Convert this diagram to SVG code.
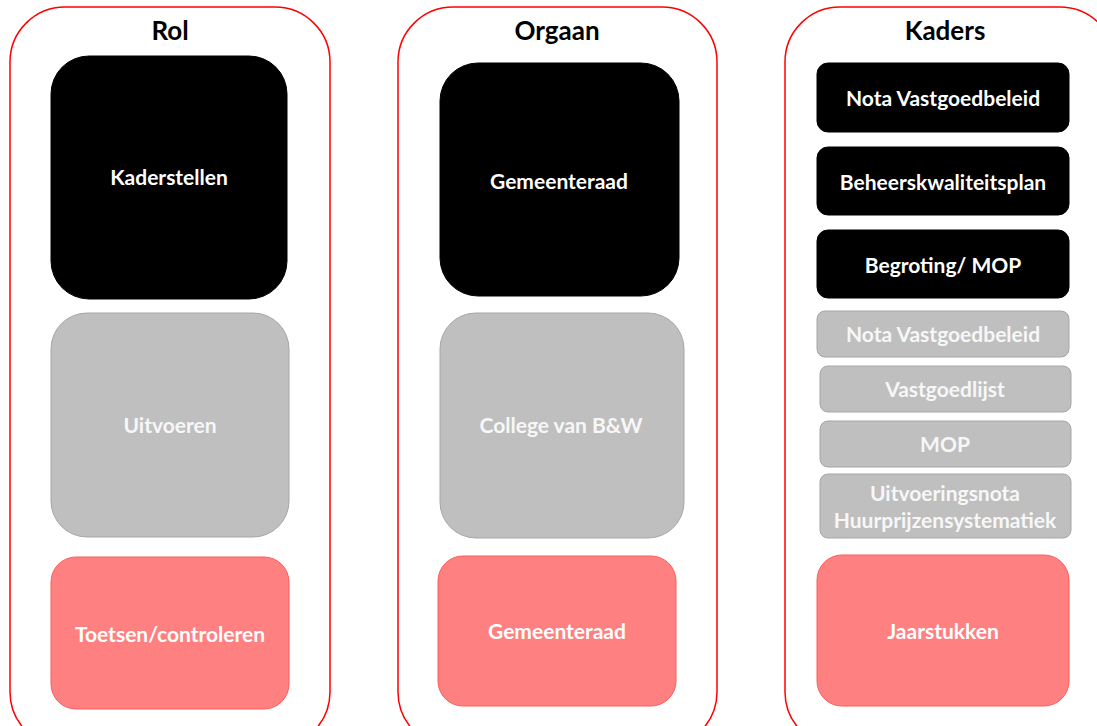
<svg xmlns="http://www.w3.org/2000/svg" width="1097" height="726" viewBox="0 0 1097 726">
<style>
.col{fill:#fff;stroke:#ff0000;stroke-width:1.5}
.blk{fill:#000;stroke:#000}
.gry{fill:#bfbfbf;stroke:#a6a6a6;stroke-width:1}
.red{fill:#ff8080;stroke:#ff5b5b;stroke-width:1}
text{font-family:Lato,"Open Sans","Liberation Sans",sans-serif;font-weight:bold;text-anchor:middle;dominant-baseline:central}
.h{font-size:26px;fill:#000}
.t{font-size:21px;fill:#fff}
.tg{font-size:21px;fill:#f7f7f7}
</style>
<rect width="1097" height="726" fill="#fff"/>
<g id="col-rol">
<rect class="col" x="10" y="7" width="320" height="740" rx="55"/>
<text class="h" x="170" y="30">Rol</text>
</g>
<g id="col-orgaan">
<rect class="col" x="398" y="7" width="319" height="740" rx="55"/>
<text class="h" x="557" y="30">Orgaan</text>
</g>
<g id="col-kaders">
<rect class="col" x="785" y="7" width="330" height="740" rx="55"/>
<text class="h" x="945" y="30">Kaders</text>
</g>
<g id="kaderstellen"><rect class="blk" x="51" y="56" width="236" height="243" rx="38"/><text class="t" x="169" y="176">Kaderstellen</text></g>
<g id="uitvoeren"><rect class="gry" x="51" y="313" width="238" height="224" rx="36"/><text class="tg" x="170" y="424">Uitvoeren</text></g>
<g id="toetsen"><rect class="red" x="51" y="557" width="238" height="152" rx="25"/><text class="t" x="170" y="633">Toetsen/controleren</text></g>
<g id="gemeenteraad1"><rect class="blk" x="440" y="63" width="239" height="233" rx="38"/><text class="t" x="559" y="180">Gemeenteraad</text></g>
<g id="college"><rect class="gry" x="440" y="313" width="244" height="225" rx="36"/><text class="tg" x="561" y="424">College van B&amp;W</text></g>
<g id="gemeenteraad2"><rect class="red" x="438" y="556" width="238" height="150" rx="25"/><text class="t" x="557" y="630">Gemeenteraad</text></g>
<g id="nota1"><rect class="blk" x="817" y="63" width="252" height="69" rx="11"/><text class="t" x="943" y="97">Nota Vastgoedbeleid</text></g>
<g id="beheer"><rect class="blk" x="817" y="147" width="252" height="68" rx="11"/><text class="t" x="943" y="181">Beheerskwaliteitsplan</text></g>
<g id="begroting"><rect class="blk" x="817" y="230" width="252" height="68" rx="11"/><text class="t" x="943" y="264">Begroting/ MOP</text></g>
<g id="nota2"><rect class="gry" x="817" y="311" width="252" height="46" rx="8"/><text class="tg" x="943" y="333">Nota Vastgoedbeleid</text></g>
<g id="vastgoedlijst"><rect class="gry" x="820" y="366" width="251" height="46" rx="8"/><text class="tg" x="945" y="388">Vastgoedlijst</text></g>
<g id="mop"><rect class="gry" x="820" y="421" width="251" height="46" rx="8"/><text class="tg" x="945" y="443">MOP</text></g>
<g id="uitvoeringsnota"><rect class="gry" x="820" y="474" width="251" height="64" rx="8"/><text class="tg" x="945" y="492">Uitvoeringsnota</text><text class="tg" x="945" y="519">Huurprijzensystematiek</text></g>
<g id="jaarstukken"><rect class="red" x="817" y="555" width="252" height="151" rx="25"/><text class="t" x="943" y="630">Jaarstukken</text></g>
<g id="connectors"></g>
</svg>
